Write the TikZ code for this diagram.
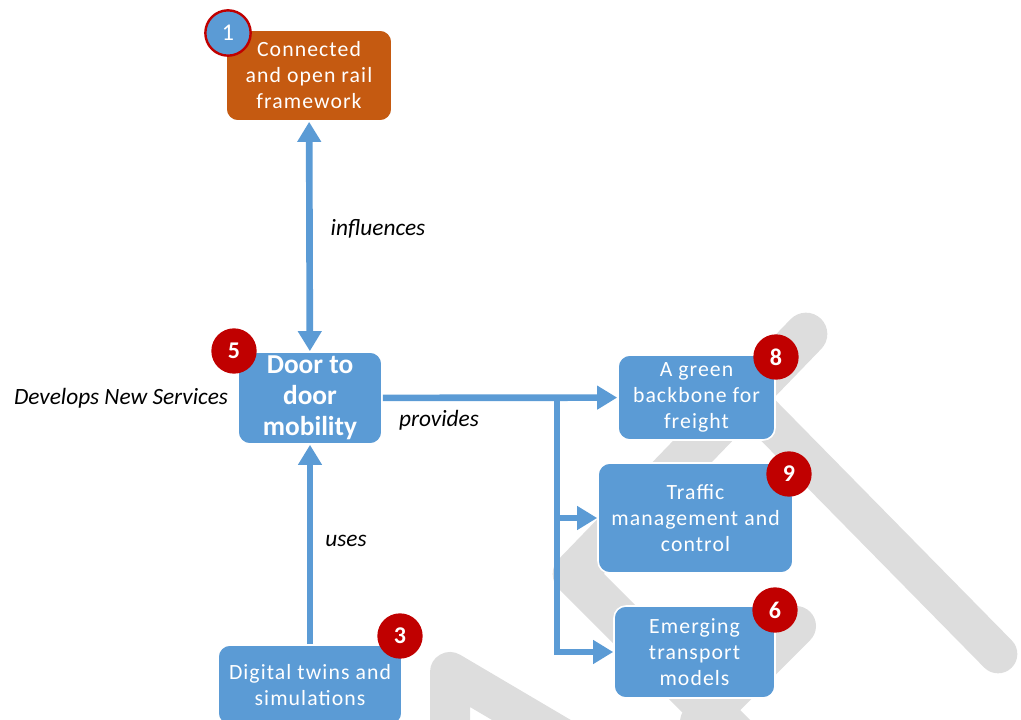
\documentclass[tikz,border=0pt]{standalone}
\usepackage{fontspec}
\setmainfont{Carlito}
\newfontfamily\boxfont[LetterSpace=5]{Carlito}
\usetikzlibrary{arrows.meta}
\definecolor{boxblue}{HTML}{5B9BD5}
\definecolor{boxorange}{HTML}{C55A11}
\definecolor{badgered}{HTML}{C00000}
\definecolor{wmgray}{HTML}{DDDDDD}

\begin{document}
\begin{tikzpicture}
  [x=0.75pt,y=-0.75pt,
   box/.style={rectangle,rounded corners=9pt,fill=boxblue,draw=white,line width=1.2pt,text=white,align=center,inner sep=0pt,font=\boxfont\fontsize{16.3}{19.5}\selectfont},
   badge/.style={circle,fill=badgered,text=white,minimum size=34pt,inner sep=0pt,font=\bfseries\fontsize{18}{18}\selectfont},
   lbl/.style={font=\itshape\fontsize{17.5}{20}\selectfont},
   link/.style={boxblue,line width=5pt,-{Triangle[length=15pt,width=17pt]}},
   biarrow/.style={link,{Triangle[length=15pt,width=17pt]}-{Triangle[length=15pt,width=17pt]}},
   wm/.style={wmgray,line cap=round,line join=round}]
  \useasboundingbox (0,0) rectangle (1021,720);
  \clip (0,0) rectangle (1021,720);

  \draw[wm,line width=32pt] (806,334) -- (574,574) -- (760,760);
  \draw[wm,line width=30pt] (796,626) -- (700,722);
  \draw[wm,line width=29pt] (760,412) -- (998,654);
  \draw[wm,line width=30pt] (450,760) -- (450,672) -- (640,784);

  \node[box,fill=boxorange,minimum width=124.5pt,minimum height=68.25pt] (box1) at (309,75.5) {Connected\\and open rail\\framework};
  \node[box,minimum width=108pt,minimum height=69pt,font=\bfseries\fontsize{20.5}{23.2}\selectfont] (box5) at (310,398) {Door to\\door\\mobility};
  \node[box,minimum width=138pt,minimum height=60pt] (box3) at (310,685) {Digital twins and\\simulations};
  \node[box,minimum width=117.75pt,minimum height=63.75pt] (box8) at (696.5,397.5) {A green\\backbone for\\freight};
  \node[box,minimum width=146.25pt,minimum height=82.5pt] (box9) at (695.5,518) {Traffic\\management and\\control};
  \node[box,minimum width=120.75pt,minimum height=69pt] (box6) at (694.5,652) {Emerging\\transport\\models};

  \node[badge,fill=boxblue,draw=badgered,line width=1.8pt,font=\fontsize{18}{18}\selectfont] (b1) at (228,33) {1};
  \node[badge] (b5) at (234,351) {5};
  \node[badge] (b3) at (400,636) {3};
  \node[badge] (b8) at (776,357) {8};
  \node[badge] (b9) at (789,474) {9};
  \node[badge] (b6) at (775,610) {6};

  \coordinate (split) at (557,397);
  \draw[biarrow] (box1) -- (box5);
  \draw[link] (box3) -- (box5);
  \draw[link] (box5) -- (box8);
  \draw[link] (split) |- (box9);
  \draw[link] (split) |- (box6);

  \node[lbl] (infl) at (378,229) {influences};
  \node[lbl] (uses) at (346,541) {uses};
  \node[lbl] (prov) at (439,420) {provides};
  \node[lbl] (dev) at (121,398) {Develops New Services};
\end{tikzpicture}
\end{document}
